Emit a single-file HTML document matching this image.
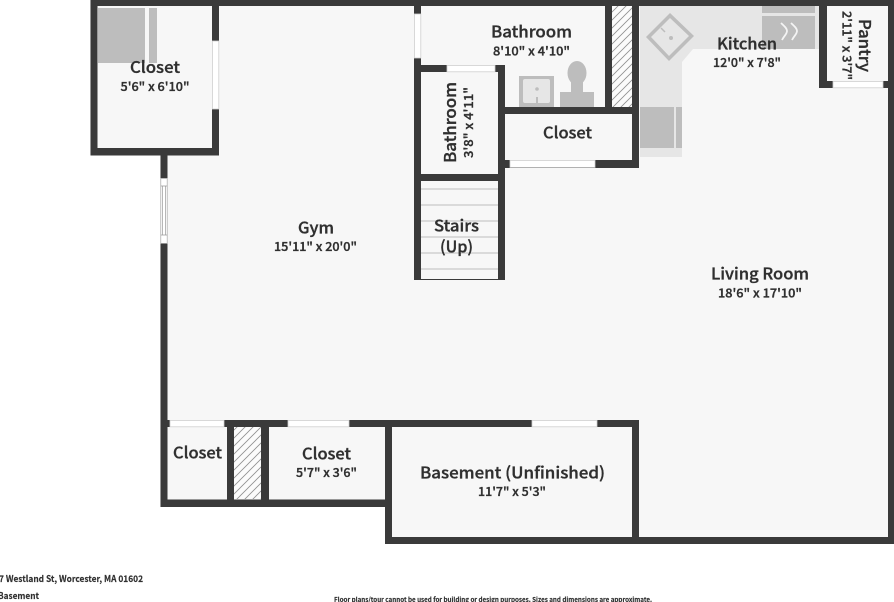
<!DOCTYPE html>
<html><head><meta charset="utf-8"><style>
html,body{margin:0;padding:0;background:#fff;width:894px;height:602px;overflow:hidden}
svg{display:block}
text{font-family:"Noto Sans CJK JP","Liberation Sans",sans-serif;fill:#2f2f2f;stroke:#2f2f2f;stroke-width:.35;text-anchor:middle;font-weight:500}
.t{font-size:16px}.d{font-size:12.5px}
.f{stroke-width:.15;font-weight:700}
.w{fill:#3a3a3a}.win{fill:#fff}
</style></head><body>
<svg width="894" height="602" viewBox="0 0 894 602" xmlns="http://www.w3.org/2000/svg">
<defs><pattern id="h" width="8" height="8" patternUnits="userSpaceOnUse"><rect width="8" height="8" fill="#fbfbfb"/><path d="M-1 9L9 -1M-1 1L1 -1M7 9L9 7" stroke="#8f8f8f" stroke-width="0.8"/></pattern></defs>
<rect width="894" height="602" fill="#fff"/>
<polygon fill="#f7f7f7" points="90,0 894,0 894,544 385,544 385,507 160,507 160,155 90,155"/>
<!-- closet shelves -->
<rect x="98" y="8" width="47" height="55" fill="#bdbdbd"/><rect x="149" y="8" width="8" height="55" fill="#bdbdbd"/>
<!-- kitchen counters -->
<polygon fill="#e6e6e6" points="640,6 819,6 819,49 693,49 682,62 682,157 640,157"/>
<rect x="762" y="6" width="53" height="7" fill="#bdbdbd"/><rect x="762" y="16" width="53" height="33" fill="#bdbdbd"/>
<path d="M781 23c3 3 6 5 6 8s-3 5-5 9M791 23c3 3 6 5 6 8s-3 5-5 9" fill="none" stroke="#f4f4f4" stroke-width="1.8"/>
<polygon points="670,13 694,36 669,61 646,37" fill="#bdbdbd"/><polygon points="670,18 689,36 669,56 651,37" fill="#e6e6e6"/>
<circle cx="671" cy="38" r="2" fill="#bdbdbd"/><path d="M661 28l4 4" stroke="#bdbdbd" stroke-width="1.5"/>
<rect x="640" y="107" width="34" height="41" fill="#bdbdbd"/><rect x="676" y="107" width="6" height="41" fill="#bdbdbd"/>
<!-- bath fixtures -->
<rect x="519" y="76" width="35" height="31" fill="#bdbdbd"/><rect x="523" y="79" width="27" height="24" rx="2" fill="#e6e6e6"/>
<circle cx="537" cy="89" r="1.8" fill="#bdbdbd"/><rect x="536" y="97" width="2" height="7" fill="#bdbdbd"/>
<ellipse cx="577" cy="73" rx="9.5" ry="12" fill="#bdbdbd"/><rect x="571" y="78" width="12" height="15" fill="#bdbdbd"/><rect x="560" y="92" width="34" height="15" fill="#bdbdbd"/>
<!-- hatches -->
<rect x="612" y="6" width="20" height="101" fill="url(#h)"/><rect x="234" y="427" width="27" height="72" fill="url(#h)"/>
<!-- stairs -->
<g stroke="#bdbdbd" stroke-width="1"><path d="M421 189H498M421 205H498M421 221H498M421 237H498M421 253H498M421 269H498"/></g>
<rect x="417" y="279" width="86" height="1" fill="#3a3a3a"/>
<!-- walls -->
<g class="w">
<rect x="90.500" y="0" width="803.500" height="6"/><rect x="90.500" y="0" width="7" height="155"/><rect x="90.500" y="148" width="128.500" height="7.500"/><rect x="212" y="0" width="7" height="155"/>
<rect x="160.500" y="155" width="7" height="352"/>
<rect x="414" y="0" width="7" height="280"/><rect x="414" y="65" width="91" height="7"/><rect x="498" y="65" width="7" height="215"/><rect x="414" y="174" width="91" height="7"/>
<rect x="498" y="107" width="141" height="7"/><rect x="605" y="0" width="7" height="114"/><rect x="632" y="0" width="7" height="168"/><rect x="505" y="160" width="134" height="8"/>
<rect x="819" y="0" width="8" height="88"/><rect x="819" y="81" width="75" height="7"/><rect x="888" y="0" width="6" height="544"/>
<rect x="160.500" y="420" width="478.500" height="7"/><rect x="227" y="420" width="7" height="87"/><rect x="261" y="420" width="8" height="87"/><rect x="160.500" y="499.500" width="231.500" height="7.500"/>
<rect x="385" y="420" width="7" height="124"/><rect x="632" y="420" width="7" height="124"/><rect x="385" y="537" width="509" height="7"/>
</g>
<!-- windows/doors -->
<g class="win" stroke="#cfcfcf" stroke-width="0.8">
<rect x="212.400" y="41" width="6.400" height="68"/><rect x="414.400" y="14" width="6.400" height="44"/><rect x="447" y="65.400" width="48" height="6.400"/><rect x="510" y="160.400" width="85" height="7"/>
<rect x="833" y="81.400" width="50" height="6.400"/><rect x="170" y="420.400" width="54" height="6.400"/><rect x="288" y="420.400" width="61" height="6.400"/><rect x="532" y="420.400" width="65" height="6.400"/>
</g>
<rect x="160.800" y="178.400" width="6.400" height="65" fill="#fff" stroke="#aaa" stroke-width="0.7"/>
<path d="M162.500 186V235M165.500 186V235M160.800 186H167.200M160.800 235H167.200" fill="none" stroke="#999" stroke-width="0.7"/>
<!-- labels -->
<text class="t" x="155" y="73" textLength="50" lengthAdjust="spacingAndGlyphs">Closet</text>
<text class="d" x="155" y="91" textLength="69" lengthAdjust="spacingAndGlyphs">5'6" x 6'10"</text>
<text class="t" x="316" y="233.500" textLength="36" lengthAdjust="spacingAndGlyphs">Gym</text>
<text class="d" x="315.500" y="251" textLength="83" lengthAdjust="spacingAndGlyphs">15'11" x 20'0"</text>
<text class="t" x="531.500" y="37.500" textLength="81" lengthAdjust="spacingAndGlyphs">Bathroom</text>
<text class="d" x="531.500" y="55.500" textLength="77" lengthAdjust="spacingAndGlyphs">8'10" x 4'10"</text>
<text class="t" transform="translate(456 122.500) rotate(-90)" textLength="81" lengthAdjust="spacingAndGlyphs">Bathroom</text>
<text class="d" transform="translate(473 122.500) rotate(-90)" textLength="71" lengthAdjust="spacingAndGlyphs">3'8" x 4'11"</text>
<text class="t" x="567.500" y="138.500" textLength="49" lengthAdjust="spacingAndGlyphs">Closet</text>
<text class="t" x="456.500" y="231.500" textLength="45" lengthAdjust="spacingAndGlyphs">Stairs</text>
<text class="t" x="456.500" y="252.500" textLength="33" lengthAdjust="spacingAndGlyphs">(Up)</text>
<text class="t" x="747" y="49.500" textLength="60" lengthAdjust="spacingAndGlyphs">Kitchen</text>
<text class="d" x="747" y="67" textLength="68" lengthAdjust="spacingAndGlyphs">12'0" x 7'8"</text>
<text class="t" transform="translate(859 45.500) rotate(90)" textLength="53" lengthAdjust="spacingAndGlyphs">Pantry</text>
<text class="d" transform="translate(842.500 45.500) rotate(90)" textLength="69" lengthAdjust="spacingAndGlyphs">2'11" x 3'7"</text>
<text class="t" x="760" y="279.500" textLength="98" lengthAdjust="spacingAndGlyphs">Living Room</text>
<text class="d" x="760" y="297.500" textLength="84" lengthAdjust="spacingAndGlyphs">18'6" x 17'10"</text>
<text class="t" x="197.500" y="458.500" textLength="49" lengthAdjust="spacingAndGlyphs">Closet</text>
<text class="t" x="326.500" y="459.500" textLength="49" lengthAdjust="spacingAndGlyphs">Closet</text>
<text class="d" x="326.500" y="477" textLength="61" lengthAdjust="spacingAndGlyphs">5'7" x 3'6"</text>
<text class="t" x="512.500" y="478.500" textLength="185" lengthAdjust="spacingAndGlyphs">Basement (Unfinished)</text>
<text class="d" x="512" y="496" textLength="68" lengthAdjust="spacingAndGlyphs">11'7" x 5'3"</text>
<text class="f" style="font-size:9px;text-anchor:start" x="-1" y="582" textLength="144" lengthAdjust="spacingAndGlyphs">7 Westland St, Worcester, MA 01602</text>
<text class="f" style="font-size:9px;text-anchor:start" x="-2" y="599" textLength="41" lengthAdjust="spacingAndGlyphs">Basement</text>
<text class="f" style="font-size:6.500px" x="493" y="602" textLength="318" lengthAdjust="spacingAndGlyphs">Floor plans/tour cannot be used for building or design purposes. Sizes and dimensions are approximate.</text>
</svg>
</body></html>
